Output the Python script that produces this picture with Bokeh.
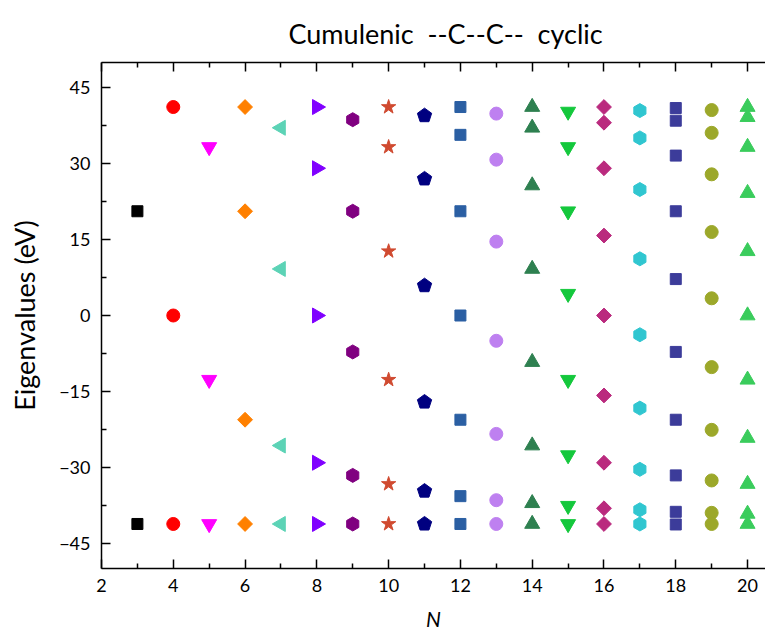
from bokeh.plotting import figure
from bokeh.models import FixedTicker, Range1d, Title, LinearAxis
from bokeh.embed import file_html
from bokeh.resources import INLINE

# Data: eigenvalues (eV) for each ring size N (distinct values)
N_values = [3, 4, 5, 6, 7, 8, 9, 10, 11, 12, 13, 14, 15, 16, 17, 18, 19, 20]
eig_3 = [20.6, -41.2]
eig_4 = [41.2, 0.0, -41.2]
eig_5 = [33.3, -12.7, -41.2]
eig_6 = [41.2, 20.6, -20.6, -41.2]
eig_7 = [37.1, 9.2, -25.7, -41.2]
eig_8 = [41.2, 29.1, 0.0, -29.1, -41.2]
eig_9 = [38.7, 20.6, -7.2, -31.6, -41.2]
eig_10 = [41.2, 33.3, 12.7, -12.7, -33.3, -41.2]
eig_11 = [39.5, 27.0, 5.9, -17.1, -34.7, -41.2]
eig_12 = [41.2, 35.7, 20.6, 0.0, -20.6, -35.7, -41.2]
eig_13 = [39.9, 30.8, 14.6, -5.0, -23.4, -36.5, -41.2]
eig_14 = [41.2, 37.1, 25.7, 9.2, -9.2, -25.7, -37.1, -41.2]
eig_15 = [40.3, 33.3, 20.6, 4.3, -12.7, -27.6, -37.6, -41.2]
eig_16 = [41.2, 38.1, 29.1, 15.8, 0.0, -15.8, -29.1, -38.1, -41.2]
eig_17 = [40.5, 35.1, 24.9, 11.2, -3.8, -18.3, -30.4, -38.4, -41.2]
eig_18 = [41.0, 38.5, 31.6, 20.6, 7.2, -7.2, -20.6, -31.6, -38.8, -41.3]
eig_19 = [40.6, 36.1, 27.9, 16.5, 3.4, -10.2, -22.6, -32.6, -39.0, -41.2]
eig_20 = [41.2, 39.2, 33.3, 24.2, 12.7, 0.0, -12.7, -24.2, -33.3, -39.2, -41.2]

eigs = [eig_3, eig_4, eig_5, eig_6, eig_7, eig_8, eig_9, eig_10, eig_11, eig_12,
        eig_13, eig_14, eig_15, eig_16, eig_17, eig_18, eig_19, eig_20]

markers = ["square", "circle", "inverted_triangle", "square", "triangle", "triangle",
           "hex", "star", "pentagon", "square", "circle", "triangle",
           "inverted_triangle", "square", "hex", "square", "circle", "triangle"]
angles = [0, 0, 0, 0.7854, 1.5708, -1.5708, 0.5236, 0, 0, 0, 0, 0, 0, 0.7854, 0.5236, 0, 0, 0]
colors = ["#000000", "#FF0000", "#FF00FF", "#FF8000", "#5CD3B6", "#8000FF",
          "#800080", "#D04A30", "#000080", "#2B5FA3", "#BE80F0", "#2E8050",
          "#14C83C", "#BA2A7E", "#30C6D0", "#3C3C9A", "#9CA82A", "#3ACC5C"]
sizes = [11, 13, 15, 10.5, 15, 15, 14, 15, 14, 11, 13, 15, 15, 10.5, 14, 11, 13, 15]

y_ticks = [-45, -30, -15, 0, 15, 30, 45]
y_minor = [-37.5, -22.5, -7.5, 7.5, 22.5, 37.5]
x_ticks = [2, 4, 6, 8, 10, 12, 14, 16, 18, 20]
x_minor = [3, 5, 7, 9, 11, 13, 15, 17, 19]

p = figure(width=765, height=633, output_backend="svg", toolbar_location=None,
           x_range=Range1d(2, 20.5), y_range=Range1d(-50, 50),
           min_border_left=101, min_border_right=0, min_border_top=62,
           min_border_bottom=64)
p.background_fill_color = "white"
p.border_fill_color = "white"
p.outline_line_color = None
p.grid.visible = False

p.title = Title(text="Cumulenic\u00a0\u00a0--C--C--\u00a0\u00a0cyclic", text_font="Lato",
                text_font_size="27px", text_font_style="normal",
                text_color="#000000", align="left", offset=187, standoff=25)

for n, vals, mk, ang, col, sz in zip(N_values, eigs, markers, angles, colors, sizes):
    xs = [n] * len(vals)
    if mk == "pentagon":
        p.ngon(x=xs, y=vals, radius=7.5, radius_units="screen", n=5,
               fill_color=col, line_color=col)
    else:
        p.scatter(x=xs, y=vals, marker=mk, size=sz, angle=ang,
                  fill_color=col, line_color=col)

for ax in p.xaxis + p.yaxis:
    ax.axis_line_color = "black"
    ax.axis_line_width = 1.5
    ax.major_tick_line_color = "black"
    ax.minor_tick_line_color = "black"
    ax.major_tick_line_width = 1.5
    ax.minor_tick_line_width = 1.5
    ax.major_tick_in = 9
    ax.major_tick_out = 0
    ax.minor_tick_in = 5
    ax.minor_tick_out = 0
    ax.major_label_text_font = "Lato"
    ax.major_label_text_font_size = "18px"
    ax.major_label_text_color = "#000000"
    ax.axis_label_text_font = "Lato"
    ax.axis_label_text_color = "#000000"

p.xaxis.ticker = FixedTicker(ticks=x_ticks, minor_ticks=x_minor)
p.yaxis.ticker = FixedTicker(ticks=y_ticks, minor_ticks=y_minor)
p.xaxis.axis_label = "N"
p.xaxis.axis_label_text_font_style = "italic"
p.xaxis.axis_label_text_font_size = "21px"
p.xaxis.axis_label_standoff = 11
p.xaxis.major_label_standoff = 10
p.yaxis.axis_label = "Eigenvalues (eV)"
p.yaxis.axis_label_text_font_style = "normal"
p.yaxis.axis_label_text_font_size = "27px"
p.yaxis.axis_label_standoff = 15
p.yaxis.major_label_standoff = 11

top_axis = LinearAxis(ticker=FixedTicker(ticks=x_ticks, minor_ticks=x_minor),
                      major_label_text_font_size="0px", axis_line_width=1.5,
                      major_tick_in=9, major_tick_out=0, minor_tick_in=5, minor_tick_out=0,
                      major_tick_line_width=1.5, minor_tick_line_width=1.5,
                      major_label_standoff=0)
top_axis.major_label_text_color = None
p.add_layout(top_axis, "above")

open("out.html", "w").write(file_html(p, INLINE))
